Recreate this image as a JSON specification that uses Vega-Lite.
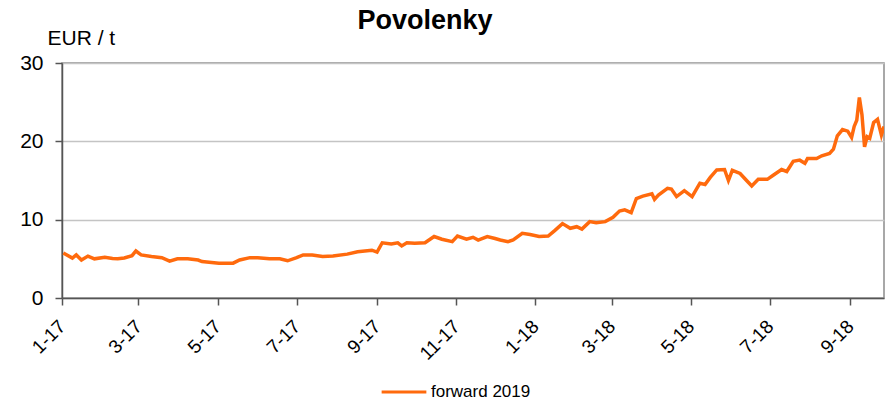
{
  "$schema": "https://vega.github.io/schema/vega-lite/v6.json",
  "width": 822,
  "height": 235,
  "autosize": {"type": "none"},
  "padding": {"left": 62, "top": 63, "right": 1, "bottom": 105},
  "background": "white",
  "title": {
    "text": "Povolenky",
    "font": "Liberation Sans",
    "fontSize": 27,
    "fontWeight": "bold",
    "color": "#000000",
    "anchor": "middle",
    "frame": "group",
    "dx": -48,
    "offset": -29,
    "baseline": "alphabetic"
  },
  "config": {
    "font": "Liberation Sans",
    "view": {"stroke": "#8c8c8c", "strokeWidth": 1.5}
  },
  "data": {
    "values": [
      {"date": "2017-01-02", "value": 5.75},
      {"date": "2017-01-09", "value": 5.1},
      {"date": "2017-01-12", "value": 5.5},
      {"date": "2017-01-16", "value": 4.85},
      {"date": "2017-01-21", "value": 5.35},
      {"date": "2017-01-26", "value": 5.0},
      {"date": "2017-02-03", "value": 5.2},
      {"date": "2017-02-09", "value": 5.05},
      {"date": "2017-02-13", "value": 5.0},
      {"date": "2017-02-18", "value": 5.1},
      {"date": "2017-02-24", "value": 5.4},
      {"date": "2017-02-27", "value": 6.0},
      {"date": "2017-03-03", "value": 5.5},
      {"date": "2017-03-11", "value": 5.3},
      {"date": "2017-03-19", "value": 5.15},
      {"date": "2017-03-25", "value": 4.7},
      {"date": "2017-03-31", "value": 5.0},
      {"date": "2017-04-08", "value": 5.0},
      {"date": "2017-04-16", "value": 4.85},
      {"date": "2017-04-19", "value": 4.65},
      {"date": "2017-05-02", "value": 4.45},
      {"date": "2017-05-13", "value": 4.45},
      {"date": "2017-05-18", "value": 4.85},
      {"date": "2017-05-26", "value": 5.15},
      {"date": "2017-06-01", "value": 5.15},
      {"date": "2017-06-10", "value": 5.0},
      {"date": "2017-06-18", "value": 5.0},
      {"date": "2017-06-24", "value": 4.75},
      {"date": "2017-07-01", "value": 5.15},
      {"date": "2017-07-06", "value": 5.5},
      {"date": "2017-07-13", "value": 5.5},
      {"date": "2017-07-21", "value": 5.3},
      {"date": "2017-07-29", "value": 5.35},
      {"date": "2017-08-09", "value": 5.6},
      {"date": "2017-08-17", "value": 5.9},
      {"date": "2017-08-28", "value": 6.1},
      {"date": "2017-09-01", "value": 5.85},
      {"date": "2017-09-05", "value": 7.05},
      {"date": "2017-09-12", "value": 6.9},
      {"date": "2017-09-17", "value": 7.05},
      {"date": "2017-09-20", "value": 6.65},
      {"date": "2017-09-24", "value": 7.05},
      {"date": "2017-09-30", "value": 7.0},
      {"date": "2017-10-08", "value": 7.05},
      {"date": "2017-10-15", "value": 7.85},
      {"date": "2017-10-21", "value": 7.5},
      {"date": "2017-10-29", "value": 7.2},
      {"date": "2017-11-02", "value": 7.9},
      {"date": "2017-11-09", "value": 7.5},
      {"date": "2017-11-14", "value": 7.75},
      {"date": "2017-11-18", "value": 7.4},
      {"date": "2017-11-25", "value": 7.85},
      {"date": "2017-12-01", "value": 7.6},
      {"date": "2017-12-05", "value": 7.4},
      {"date": "2017-12-11", "value": 7.2},
      {"date": "2017-12-15", "value": 7.4},
      {"date": "2017-12-22", "value": 8.25},
      {"date": "2017-12-28", "value": 8.1},
      {"date": "2018-01-04", "value": 7.85},
      {"date": "2018-01-11", "value": 7.9},
      {"date": "2018-01-16", "value": 8.6},
      {"date": "2018-01-22", "value": 9.5},
      {"date": "2018-01-28", "value": 8.9},
      {"date": "2018-02-02", "value": 9.1},
      {"date": "2018-02-06", "value": 8.8},
      {"date": "2018-02-12", "value": 9.75},
      {"date": "2018-02-17", "value": 9.6},
      {"date": "2018-02-24", "value": 9.75},
      {"date": "2018-03-02", "value": 10.3},
      {"date": "2018-03-07", "value": 11.1},
      {"date": "2018-03-11", "value": 11.25},
      {"date": "2018-03-16", "value": 10.9},
      {"date": "2018-03-20", "value": 12.7},
      {"date": "2018-03-25", "value": 13.0},
      {"date": "2018-04-01", "value": 13.3},
      {"date": "2018-04-03", "value": 12.6},
      {"date": "2018-04-06", "value": 13.15},
      {"date": "2018-04-13", "value": 14.0},
      {"date": "2018-04-16", "value": 13.9},
      {"date": "2018-04-20", "value": 12.95},
      {"date": "2018-04-26", "value": 13.7},
      {"date": "2018-05-02", "value": 12.95},
      {"date": "2018-05-08", "value": 14.65},
      {"date": "2018-05-12", "value": 14.5},
      {"date": "2018-05-16", "value": 15.4},
      {"date": "2018-05-21", "value": 16.35},
      {"date": "2018-05-27", "value": 16.4},
      {"date": "2018-05-30", "value": 15.0},
      {"date": "2018-06-02", "value": 16.3},
      {"date": "2018-06-08", "value": 15.9},
      {"date": "2018-06-13", "value": 15.0},
      {"date": "2018-06-17", "value": 14.3},
      {"date": "2018-06-22", "value": 15.15},
      {"date": "2018-06-29", "value": 15.15},
      {"date": "2018-07-03", "value": 15.6},
      {"date": "2018-07-10", "value": 16.4},
      {"date": "2018-07-14", "value": 16.15},
      {"date": "2018-07-19", "value": 17.45},
      {"date": "2018-07-24", "value": 17.6},
      {"date": "2018-07-28", "value": 17.2},
      {"date": "2018-07-30", "value": 17.8},
      {"date": "2018-08-06", "value": 17.8},
      {"date": "2018-08-10", "value": 18.15},
      {"date": "2018-08-16", "value": 18.45},
      {"date": "2018-08-19", "value": 19.0},
      {"date": "2018-08-22", "value": 20.7},
      {"date": "2018-08-26", "value": 21.5},
      {"date": "2018-08-30", "value": 21.3},
      {"date": "2018-09-02", "value": 20.5},
      {"date": "2018-09-04", "value": 21.9},
      {"date": "2018-09-06", "value": 22.7},
      {"date": "2018-09-08", "value": 25.6},
      {"date": "2018-09-10", "value": 23.4},
      {"date": "2018-09-12", "value": 19.3},
      {"date": "2018-09-14", "value": 20.6},
      {"date": "2018-09-16", "value": 20.4},
      {"date": "2018-09-19", "value": 22.4},
      {"date": "2018-09-22", "value": 22.8},
      {"date": "2018-09-25", "value": 20.8},
      {"date": "2018-09-27", "value": 21.9}
    ]
  },
  "mark": {"type": "line", "strokeWidth": 3.5, "interpolate": "linear", "clip": true},
  "encoding": {
    "x": {
      "field": "date",
      "type": "temporal",
      "scale": {
        "type": "utc",
        "domain": [
          {"year": 2017, "month": 1, "date": 1, "utc": true},
          {"year": 2018, "month": 9, "date": 27, "utc": true}
        ]
      },
      "axis": {
        "title": null,
        "values": [
          {"year": 2017, "month": 1, "date": 1, "utc": true},
          {"year": 2017, "month": 3, "date": 1, "utc": true},
          {"year": 2017, "month": 5, "date": 1, "utc": true},
          {"year": 2017, "month": 7, "date": 1, "utc": true},
          {"year": 2017, "month": 9, "date": 1, "utc": true},
          {"year": 2017, "month": 11, "date": 1, "utc": true},
          {"year": 2018, "month": 1, "date": 1, "utc": true},
          {"year": 2018, "month": 3, "date": 1, "utc": true},
          {"year": 2018, "month": 5, "date": 1, "utc": true},
          {"year": 2018, "month": 7, "date": 1, "utc": true},
          {"year": 2018, "month": 9, "date": 1, "utc": true}
        ],
        "labelExpr": "utcFormat(datum.value, '%-m-%y')",
        "labelAngle": -45,
        "labelAlign": "right",
        "labelBaseline": "middle",
        "labelFont": "Liberation Sans",
        "labelFontSize": 19,
        "labelColor": "#000000",
        "labelPadding": 18,
        "labelOverlap": false,
        "labelFlush": false,
        "grid": false,
        "domainColor": "#555555",
        "domainWidth": 1.5,
        "tickColor": "#555555",
        "tickWidth": 1.5,
        "tickSize": 7
      }
    },
    "y": {
      "field": "value",
      "type": "quantitative",
      "scale": {"domain": [0, 30], "nice": false},
      "axis": {
        "values": [0, 10, 20, 30],
        "title": "EUR / t",
        "titleAngle": 0,
        "titleAlign": "left",
        "titleBaseline": "alphabetic",
        "titleX": -15,
        "titleY": -19,
        "titleFont": "Liberation Sans",
        "titleFontSize": 21,
        "titleFontWeight": "normal",
        "titleColor": "#000000",
        "labelFont": "Liberation Sans",
        "labelFontSize": 21,
        "labelColor": "#000000",
        "labelPadding": 12,
        "grid": true,
        "gridColor": "#c4c4c4",
        "gridWidth": 1.5,
        "domainColor": "#555555",
        "domainWidth": 1.5,
        "tickColor": "#555555",
        "tickWidth": 1.5,
        "tickSize": 7
      }
    },
    "color": {
      "datum": "forward 2019",
      "type": "nominal",
      "scale": {"range": ["#FF6A0D"]},
      "legend": {
        "title": null,
        "orient": "none",
        "legendX": 318,
        "legendY": 305,
        "symbolType": "stroke",
        "symbolSize": 2000,
        "symbolStrokeWidth": 3,
        "labelFont": "Liberation Sans",
        "labelFontSize": 17,
        "labelColor": "#000000",
        "labelOffset": 3
      }
    }
  }
}
